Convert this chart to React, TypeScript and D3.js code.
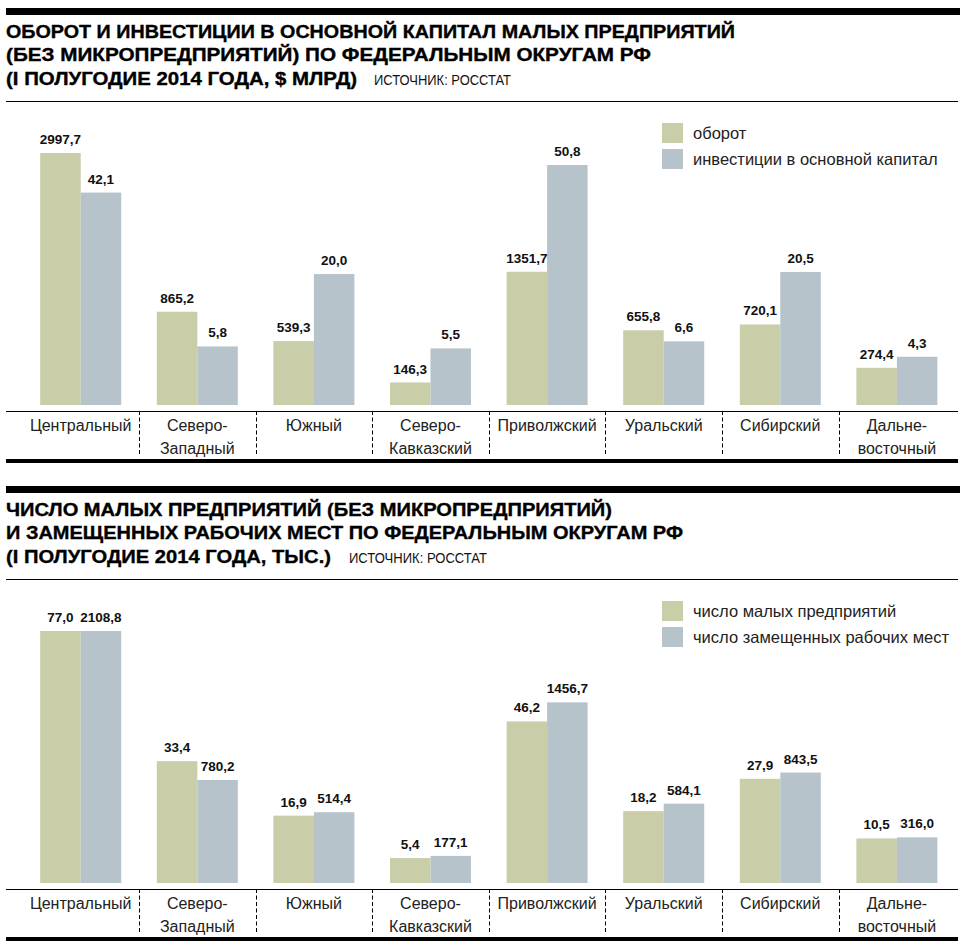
import React from "react";
import * as d3 from "d3";

// ---------- data ----------
const categories = [
  "Центральный",
  "Северо-\nЗападный",
  "Южный",
  "Северо-\nКавказский",
  "Приволжский",
  "Уральский",
  "Сибирский",
  "Дальне-\nвосточный",
];

const turnover = [2997.7, 865.2, 539.3, 146.3, 1351.7, 655.8, 720.1, 274.4];
const investment = [42.1, 5.8, 20.0, 5.5, 50.8, 6.6, 20.5, 4.3];
const firms = [77.0, 33.4, 16.9, 5.4, 46.2, 18.2, 27.9, 10.5];
const jobs = [2108.8, 780.2, 514.4, 177.1, 1456.7, 584.1, 843.5, 316.0];

const title1Lines = [
  "ОБОРОТ И ИНВЕСТИЦИИ В ОСНОВНОЙ КАПИТАЛ МАЛЫХ ПРЕДПРИЯТИЙ",
  "(БЕЗ МИКРОПРЕДПРИЯТИЙ) ПО ФЕДЕРАЛЬНЫМ ОКРУГАМ РФ",
  "(I ПОЛУГОДИЕ 2014 ГОДА, $ МЛРД)",
];
const title2Lines = [
  "ЧИСЛО МАЛЫХ ПРЕДПРИЯТИЙ (БЕЗ МИКРОПРЕДПРИЯТИЙ)",
  "И ЗАМЕЩЕННЫХ РАБОЧИХ МЕСТ ПО ФЕДЕРАЛЬНЫМ ОКРУГАМ РФ",
  "(I ПОЛУГОДИЕ 2014 ГОДА, ТЫС.)",
];
const sourceText = "ИСТОЧНИК: РОССТАТ";
const legend1 = ["оборот", "инвестиции в основной капитал"];
const legend2 = ["число малых предприятий", "число замещенных рабочих мест"];

// ---------- style ----------
const COLOR_A = "#c9cda8";
const COLOR_B = "#b6c3cb";
const SANS = "'Liberation Sans', Arial, 'DejaVu Sans', sans-serif";

const fmt = (v: number) => d3.format(".1f")(v).replace(".", ",");

const x = d3.scaleBand<string>().domain(categories).range([22.4, 955.2]).paddingInner(0);
const inner = d3
  .scaleBand<string>()
  .domain(["a", "b"])
  .range([x.bandwidth() / 2 - 40.5, x.bandwidth() / 2 + 40.5]);

type PanelProps = {
  y0: number;
  titleLines: string[];
  titleWidths: number[];
  titleSize: number;
  titleBaselines: number[];
  sourceX: number;
  sourceW: number;
  legend: string[];
  a: number[];
  b: number[];
  scaleA: (v: number) => number;
  scaleB: (v: number) => number;
};

function Panel(p: PanelProps) {
  const { y0 } = p;
  const base = y0 + 405;
  const axisY = y0 + 411;
  return (
    <g>
      <rect x={6} y={y0 + 8} width={954} height={7} fill="#000" />
      {p.titleLines.map((t, i) => (
        <text
          key={i}
          x={6}
          y={y0 + p.titleBaselines[i]}
          fontFamily={SANS}
          fontWeight={700}
          fontSize={p.titleSize}
          textLength={p.titleWidths[i]}
          lengthAdjust="spacingAndGlyphs"
          stroke="#000"
          strokeWidth={0.35}
          fill="#000"
        >
          {t}
        </text>
      ))}
      <text
        x={p.sourceX}
        y={y0 + p.titleBaselines[2]}
        fontFamily={SANS}
        fontSize={15}
        textLength={p.sourceW}
        lengthAdjust="spacingAndGlyphs"
        fill="#111"
      >
        {sourceText}
      </text>
      <line x1={6} x2={958} y1={y0 + 101.5} y2={y0 + 101.5} stroke="#000" strokeWidth={1} />

      {/* legend */}
      {p.legend.map((l, i) => (
        <g key={l}>
          <rect x={662} y={y0 + 123 + i * 26} width={21} height={20} fill={i === 0 ? COLOR_A : COLOR_B} />
          <text x={693} y={y0 + 139 + i * 26} fontFamily={SANS} fontSize={16.5} fill="#222">
            {l}
          </text>
        </g>
      ))}

      {/* bars */}
      {categories.map((c, i) => {
        const gx = x(c)!;
        const ha = p.scaleA(p.a[i]);
        const hb = p.scaleB(p.b[i]);
        const xa = gx + inner("a")!;
        const xb = gx + inner("b")!;
        const bw = inner.bandwidth();
        return (
          <g key={c}>
            <rect x={xa} y={base - ha} width={bw} height={ha} fill={COLOR_A} />
            <rect x={xb} y={base - hb} width={bw} height={hb} fill={COLOR_B} />
            <text
              x={xa + bw / 2}
              y={base - ha - 9}
              textAnchor="middle"
              fontFamily={SANS}
              fontWeight={700}
              fontSize={13.5}
              fill="#111"
            >
              {fmt(p.a[i])}
            </text>
            <text
              x={xb + bw / 2}
              y={base - hb - 9}
              textAnchor="middle"
              fontFamily={SANS}
              fontWeight={700}
              fontSize={13.5}
              fill="#111"
            >
              {fmt(p.b[i])}
            </text>
            {c.split("\n").map((ln, k) => (
              <text
                key={k}
                x={gx + x.bandwidth() / 2}
                y={y0 + 431 + k * 23}
                textAnchor="middle"
                fontFamily={SANS}
                fontSize={16}
                fill="#222"
              >
                {ln}
              </text>
            ))}
            {i > 0 && (
              <line
                x1={Math.round(gx) + 0.5}
                x2={Math.round(gx) + 0.5}
                y1={axisY}
                y2={y0 + 455}
                stroke="#000"
                strokeWidth={1}
                strokeDasharray="4,2.5"
              />
            )}
          </g>
        );
      })}
      <line x1={6} x2={958} y1={axisY + 0.5} y2={axisY + 0.5} stroke="#000" strokeWidth={1} />
      <rect x={6} y={y0 + 459} width={952} height={4} fill="#000" />
    </g>
  );
}

export default function App() {
  const sTurnover = d3.scalePow().exponent(0.8).domain([0, d3.max(turnover)!]).range([0, 252]);
  const sInvest = d3.scalePow().exponent(0.65).domain([0, d3.max(investment)!]).range([0, 240]);
  const sFirms = d3.scalePow().exponent(0.87).domain([0, d3.max(firms)!]).range([0, 252]);
  const sJobs = d3.scalePow().exponent(0.9).domain([0, d3.max(jobs)!]).range([0, 252]);

  return (
    <svg
      width={966}
      height={952}
      viewBox="0 0 966 952"
      style={{ position: "absolute", left: 0, top: 0, background: "#fff" }}
    >
      <rect width={966} height={952} fill="#fff" />
      <Panel
        y0={0}
        titleLines={title1Lines}
        titleWidths={[729, 645, 351]}
        titleSize={17.5}
        titleBaselines={[37.5, 61, 85]}
        sourceX={374}
        sourceW={137}
        legend={legend1}
        a={turnover}
        b={investment}
        scaleA={sTurnover}
        scaleB={sInvest}
      />
      <Panel
        y0={478}
        titleLines={title2Lines}
        titleWidths={[606, 677, 325]}
        titleSize={19}
        titleBaselines={[37.5, 61, 85]}
        sourceX={349}
        sourceW={138}
        legend={legend2}
        a={firms}
        b={jobs}
        scaleA={sFirms}
        scaleB={sJobs}
      />
    </svg>
  );
}
